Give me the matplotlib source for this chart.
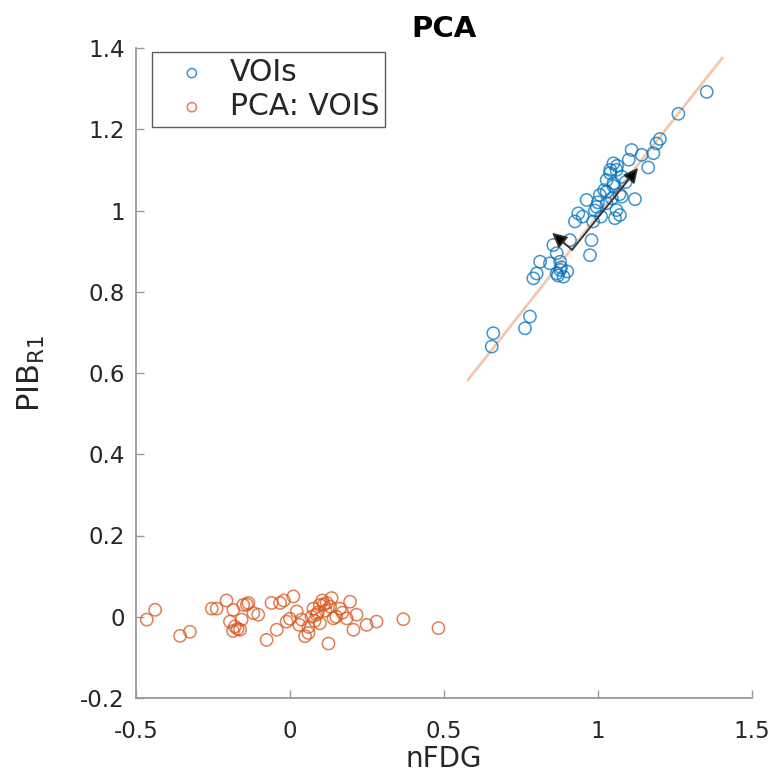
import matplotlib
matplotlib.use("Agg")
import matplotlib.pyplot as plt
import numpy as np

# Data: original VOIs (nFDG, PIB_R1)
voi_x = [1.353, 1.261, 1.201, 1.190, 1.109, 1.142, 1.180, 1.163, 1.050, 1.060,
         1.039, 1.077, 1.028, 1.050, 1.120, 1.077, 1.028, 1.006, 0.963, 0.996,
         1.028, 1.060, 1.071, 1.055, 0.936, 0.925, 0.984, 0.979, 0.974, 0.909,
         0.855, 0.866, 0.812, 0.844, 0.877, 0.790, 0.801, 0.866, 0.888, 0.877,
         0.779, 0.763, 0.660, 0.655, 1.040, 1.062, 1.050, 1.020, 1.000, 1.070,
         1.090, 0.990, 1.010, 0.950, 0.880, 0.870, 0.900, 1.100, 1.045]
voi_y = [1.292, 1.238, 1.176, 1.165, 1.149, 1.137, 1.141, 1.106, 1.116, 1.100,
         1.092, 1.083, 1.075, 1.067, 1.028, 1.034, 1.046, 1.038, 1.026, 1.009,
         1.018, 1.001, 0.989, 0.981, 0.993, 0.973, 0.973, 0.927, 0.890, 0.927,
         0.915, 0.895, 0.874, 0.870, 0.874, 0.833, 0.845, 0.845, 0.837, 0.854,
         0.739, 0.710, 0.698, 0.665, 1.100, 1.110, 1.060, 1.050, 1.020, 1.040,
         1.070, 1.000, 0.985, 0.985, 0.860, 0.840, 0.850, 1.125, 1.030]

# PCA scores
pca_x = [-0.465, -0.438, -0.357, -0.325, -0.254, -0.238, -0.206, -0.184, -0.152, -0.135,
         -0.195, -0.179, -0.162, -0.157, -0.119, -0.103, -0.076, -0.043, -0.060, -0.032,
          0.011, -0.011, 0.022, 0.038, 0.049, 0.060, 0.076, 0.097, 0.119, 0.135,
          0.086, 0.097, 0.141, 0.125, 0.162, 0.195, 0.184, 0.216, 0.206, 0.249,
          0.281, 0.368, 0.482, 0.105, 0.110, 0.070, 0.090, -0.170, -0.185, 0.030,
          0.130, 0.150, -0.020, 0.000, 0.060, 0.115, 0.080, -0.140, 0.170]
pca_y = [-0.007, 0.017, -0.047, -0.037, 0.020, 0.020, 0.040, 0.017, 0.029, 0.034,
         -0.012, -0.024, -0.032, -0.007, 0.009, 0.005, -0.057, -0.032, 0.034, 0.034,
          0.050, -0.012, 0.013, -0.007, -0.048, -0.040, 0.020, 0.029, 0.034, 0.046,
          0.005, -0.016, -0.004, -0.066, 0.020, 0.037, -0.004, 0.005, -0.032, -0.020,
         -0.012, -0.006, -0.028, 0.040, 0.030, 0.000, 0.010, -0.030, -0.035, -0.020,
          0.025, 0.000, 0.040, -0.005, -0.025, 0.015, -0.010, 0.030, 0.010]

# Principal axis line
line_x = [0.578, 1.403]
line_y = [0.583, 1.375]

# PC arrows: origin and vectors
arrow_origin = (0.916, 0.903)
arrow_u = [0.214, -0.065]
arrow_v = [0.202, 0.042]

blue = '#0072BD'
orange = '#D95319'
axcol = '#9a9a9a'
txtcol = '#262626'

plt.rcParams['font.family'] = ['DejaVu Sans']
plt.rcParams['mathtext.fontset'] = 'dejavusans'

fig = plt.figure(figsize=(7.79, 7.80), dpi=100)
ax = fig.add_axes([136/779, 1-698/780, (752-136)/779, (698-48)/780])

ax.plot(line_x, line_y, color='#F2B48C', lw=2.0, alpha=0.75, zorder=1)
ax.scatter(voi_x, voi_y, s=78, facecolors='none', edgecolors=blue, linewidths=1.1,
           label='VOIs', zorder=2, alpha=0.75)
ax.scatter(pca_x, pca_y, s=78, facecolors='none', edgecolors=orange, linewidths=1.1,
           label='PCA: VOIS', zorder=2, alpha=0.75)

for u, v in zip(arrow_u, arrow_v):
    ox, oy = arrow_origin
    ax.annotate('', xy=(ox + u, oy + v), xytext=(ox, oy),
                arrowprops=dict(arrowstyle='-|>', color='#555555', lw=1.3,
                                mutation_scale=22, shrinkA=0, shrinkB=0,
                                fc='black', ec='#333333'), zorder=3)

ax.set_xlim(-0.5, 1.5)
ax.set_ylim(-0.2, 1.4)
ax.set_xticks([-0.5, 0, 0.5, 1, 1.5])
ax.set_xticklabels(['-0.5', '0', '0.5', '1', '1.5'])
ax.set_yticks([-0.2, 0, 0.2, 0.4, 0.6, 0.8, 1.0, 1.2, 1.4])
ax.set_yticklabels(['-0.2', '0', '0.2', '0.4', '0.6', '0.8', '1', '1.2', '1.4'])

for s in ['top', 'right']:
    ax.spines[s].set_visible(False)
for s in ['left', 'bottom']:
    ax.spines[s].set_color(axcol)
    ax.spines[s].set_linewidth(1.3)
ax.tick_params(direction='in', length=6, width=1.0, color=axcol,
               labelsize=16.5, labelcolor=txtcol)
ax.tick_params(axis='x', pad=16)
ax.tick_params(axis='y', pad=8)

ax.set_xlabel('nFDG', fontsize=20, color=txtcol, labelpad=1)
ax.set_ylabel(r'PIB$_{\mathrm{R1}}$', fontsize=22, color=txtcol, labelpad=24)
ax.set_title('PCA', fontsize=21, fontweight='bold', color='black', pad=8)

leg = ax.legend(loc='upper left', fontsize=21.5, frameon=True, fancybox=False,
                handletextpad=0.13, borderpad=0.2,
                labelspacing=0.17, markerscale=0.75, handlelength=2.27,
                bbox_to_anchor=(16/616, 1.0 - 4/650), borderaxespad=0)
leg.get_frame().set_edgecolor('#333333')
leg.get_frame().set_linewidth(1.0)
for t in leg.get_texts():
    t.set_color(txtcol)

fig.savefig('out.png', dpi=100)
